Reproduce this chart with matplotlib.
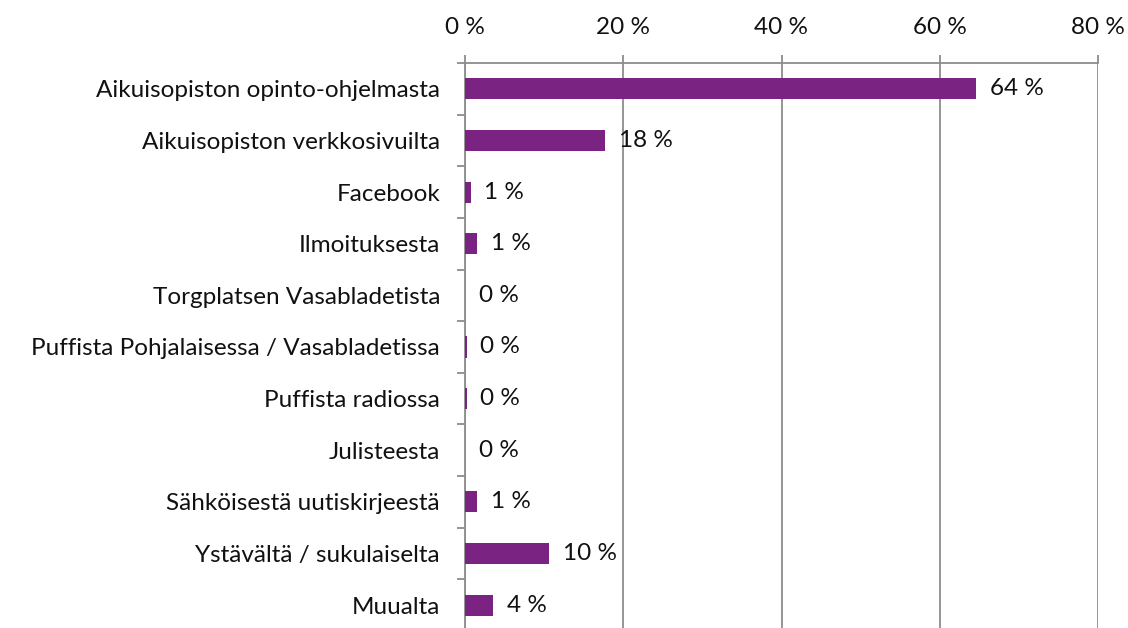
import matplotlib
matplotlib.use("Agg")
import matplotlib.pyplot as plt
from matplotlib.ticker import FixedLocator, FuncFormatter

categories = [
    "Aikuisopiston opinto-ohjelmasta",
    "Aikuisopiston verkkosivuilta",
    "Facebook",
    "Ilmoituksesta",
    "Torgplatsen Vasabladetista",
    "Puffista Pohjalaisessa / Vasabladetissa",
    "Puffista radiossa",
    "Julisteesta",
    "Sähköisestä uutiskirjeestä",
    "Ystävältä / sukulaiselta",
    "Muualta",
]
values = [64.6, 17.7, 0.7, 1.5, 0.0, 0.2, 0.2, 0.0, 1.5, 10.6, 3.5]
labels = ["64 %", "18 %", "1 %", "1 %", "0 %", "0 %", "0 %", "0 %", "1 %", "10 %", "4 %"]
xticks = [0, 20, 40, 60, 80]

plt.rcParams['font.family'] = ['Lato', 'DejaVu Sans']
fig = plt.figure(figsize=(11.28, 6.28), dpi=100)
ax = fig.add_axes([465/1128, 1 - 631/628, (1098-465)/1128, 568/628])

grid_c = "#8c8c8c"
bar_c = "#7B2382"
txt_c = "#111111"
fs = 17.5
pos = list(range(len(categories)))
ax.barh(pos, values, height=0.41, color=bar_c, zorder=3)
ax.set_xlim(0, 80)
ax.set_ylim(len(categories) - 0.5, -0.5)

for p, v, l in zip(pos, values, labels):
    ax.annotate(l, (v, p), xytext=(10, 0), textcoords="offset points",
                va="center", ha="left", fontsize=fs, color=txt_c)

ax.xaxis.tick_top()
ax.xaxis.set_major_locator(FixedLocator(xticks))
ax.xaxis.set_major_formatter(FuncFormatter(lambda x, _: f"{int(x)} %"))
ax.tick_params(axis="x", length=6, width=1.3, color=grid_c, pad=12, labelsize=fs, labelcolor=txt_c)
ax.grid(axis="x", color=grid_c, linewidth=1.3, zorder=0)

ax.set_yticks(pos)
ax.set_yticklabels(categories)
ax.yaxis.set_minor_locator(FixedLocator([p - 0.5 for p in pos] + [len(pos) - 0.5]))
ax.tick_params(axis="y", which="major", length=0, pad=18, labelsize=fs, labelcolor=txt_c)
ax.tick_params(axis="y", which="minor", length=6, width=1.3, color=grid_c)

for s in ["right", "bottom"]:
    ax.spines[s].set_visible(False)
for s in ["top", "left"]:
    ax.spines[s].set_color(grid_c)
    ax.spines[s].set_linewidth(1.3)

fig.savefig("out.png", dpi=100)
